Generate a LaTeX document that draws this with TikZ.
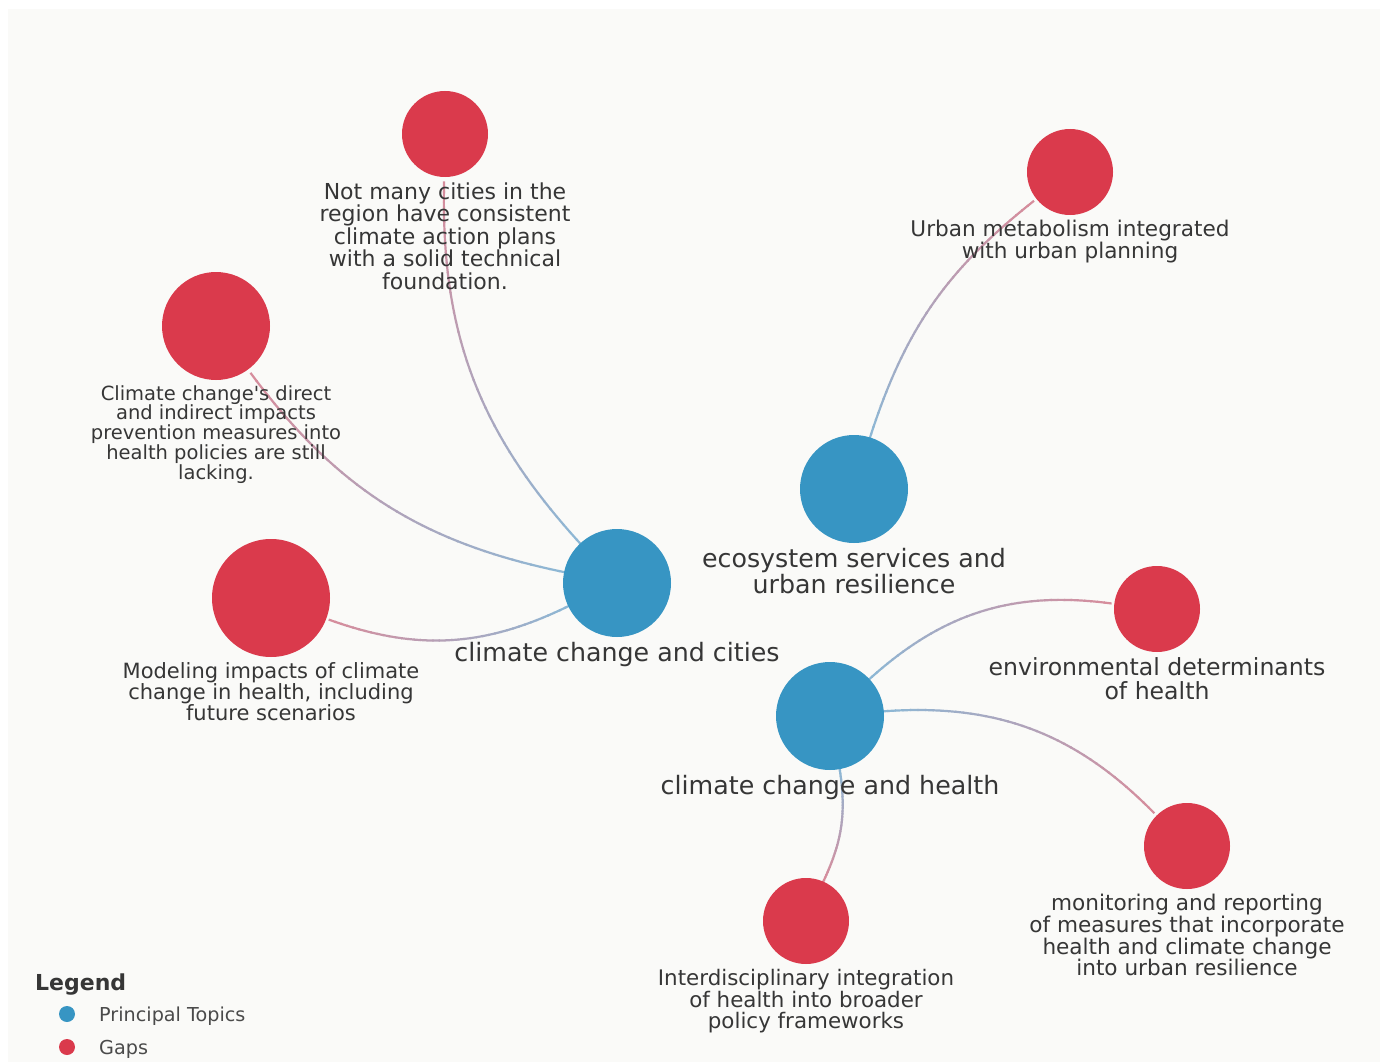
\documentclass[tikz,border=0pt]{standalone}
\usepackage{xcolor}
\usepackage{fontspec}
\setmainfont{DejaVu Sans}
\usepackage{tikz}
\usetikzlibrary{decorations.markings,backgrounds}

\definecolor{topicblue}{HTML}{3795C3}
\definecolor{gapred}{HTML}{DA3A4C}
\definecolor{linkblue}{HTML}{8CB8D6}
\definecolor{linkred}{HTML}{D88C9B}
\definecolor{labelgray}{HTML}{363636}
\definecolor{paper}{HTML}{FAFAF8}

\begin{document}
\begin{tikzpicture} [ x=1pt, y=1pt,
    topicdot/.style={circle, fill=topicblue, minimum size=108pt, inner sep=0pt},
    gapdot/.style={circle, fill=gapred, minimum size=#1, inner sep=0pt},
    gapdot/.default=86pt,
    legdot/.style={circle, minimum size=16pt, inner sep=0pt},
    toptext/.style={font=\fontsize{25.3}{26}\selectfont, text=labelgray, align=center, inner sep=0pt},
    gaptext/.style 2 args={font=\fontsize{#1}{#2}\selectfont, text=labelgray, align=center, inner sep=0pt},
    legtext/.style={font=\fontsize{19.2}{19.2}\selectfont, text=labelgray!90, anchor=base west, inner sep=0pt},
    label distance=5pt,
    % links fade from the topic colour to the gap colour
    linkcurve/.style={postaction={decorate},
      decoration={markings,
        mark=between positions 0 and 1 step 0.025 with {
          \pgfmathtruncatemacro\mixv{100-2.5*(\pgfkeysvalueof{/pgf/decoration/mark info/sequence number}-1)}
          \pgfmathsetlengthmacro\seglen{0.0125*\pgfdecoratedpathlength+0.6pt}
          \draw[line width=2.2pt, linkblue!\mixv!linkred] (-\seglen,0) -- (\seglen,0);
        }}},
  ]
    \useasboundingbox (0,0) rectangle (1387,-1062);
    \begin{scope}[on background layer]
    \fill[paper] (8,-9) rectangle (1380,-1062);
    \end{scope}

    % principal topics
    \node[topicdot, label={[toptext]below:{climate change and cities}}] (cities) at (617,-583) {};
    \node[topicdot, label={[toptext]below:{ecosystem services and\\urban resilience}}] (ecosys) at (854,-489) {};
    \node[topicdot, label={[toptext]below:{climate change and health}}] (health) at (830,-716) {};

    % gaps
    \node[gapdot, label={[gaptext={22}{22.5}]below:{Not many cities in the\\region have consistent\\climate action plans\\with a solid technical\\foundation.}}] (notmany) at (445,-134) {};
    \node[gapdot=108pt, label={[gaptext={19.5}{19.7}]below:{Climate change\textquotesingle s direct\\and indirect impacts\\prevention measures into\\health policies are still\\lacking.}}] (directimp) at (216,-326) {};
    \node[gapdot=118pt, label={[gaptext={21}{21}]below:{Modeling impacts of climate\\change in health, including\\future scenarios}}] (modeling) at (271,-598) {};
    \node[gapdot, label={[gaptext={21.6}{22}]below:{Urban metabolism integrated\\with urban planning}}] (metab) at (1070,-172) {};
    \node[gapdot, label={[gaptext={23.6}{24}]below:{environmental determinants\\of health}}] (envdet) at (1157,-609) {};
    \node[gapdot, label={[gaptext={21.6}{21.7}]below:{monitoring and reporting\\of measures that incorporate\\health and climate change\\into urban resilience}}] (monitor) at (1187,-846) {};
    \node[gapdot, label={[gaptext={21.4}{21.5}]below:{Interdisciplinary integration\\of health into broader\\policy frameworks}}] (interdis) at (806,-921) {};

    \begin{scope}[on background layer]
    \path[linkcurve] (cities) to[bend left=22] (notmany);
    \path[linkcurve] (cities) to[bend left=21] (directimp);
    \path[linkcurve] (cities) to[bend left=23] (modeling);
    \path[linkcurve] (ecosys) to[bend left=17] (metab);
    \path[linkcurve] (health) to[bend left=25] (envdet);
    \path[linkcurve] (health) to[bend left=25] (monitor);
    \path[linkcurve] (health) to[bend left=17] (interdis);
    \end{scope}

    % legend
    \node[font=\bfseries\fontsize{22}{22}\selectfont, text=labelgray, anchor=base west, inner sep=0pt] (legtitle) at (35,-990) {Legend};
    \node[legdot, fill=topicblue] (legtopic) at (67,-1014) {};
    \node[legtext] (legtopictext) at (99,-1021) {Principal Topics};
    \node[legdot, fill=gapred] (leggap) at (67,-1047) {};
    \node[legtext] (leggaptext) at (99,-1054) {Gaps};

\end{tikzpicture}
\end{document}
